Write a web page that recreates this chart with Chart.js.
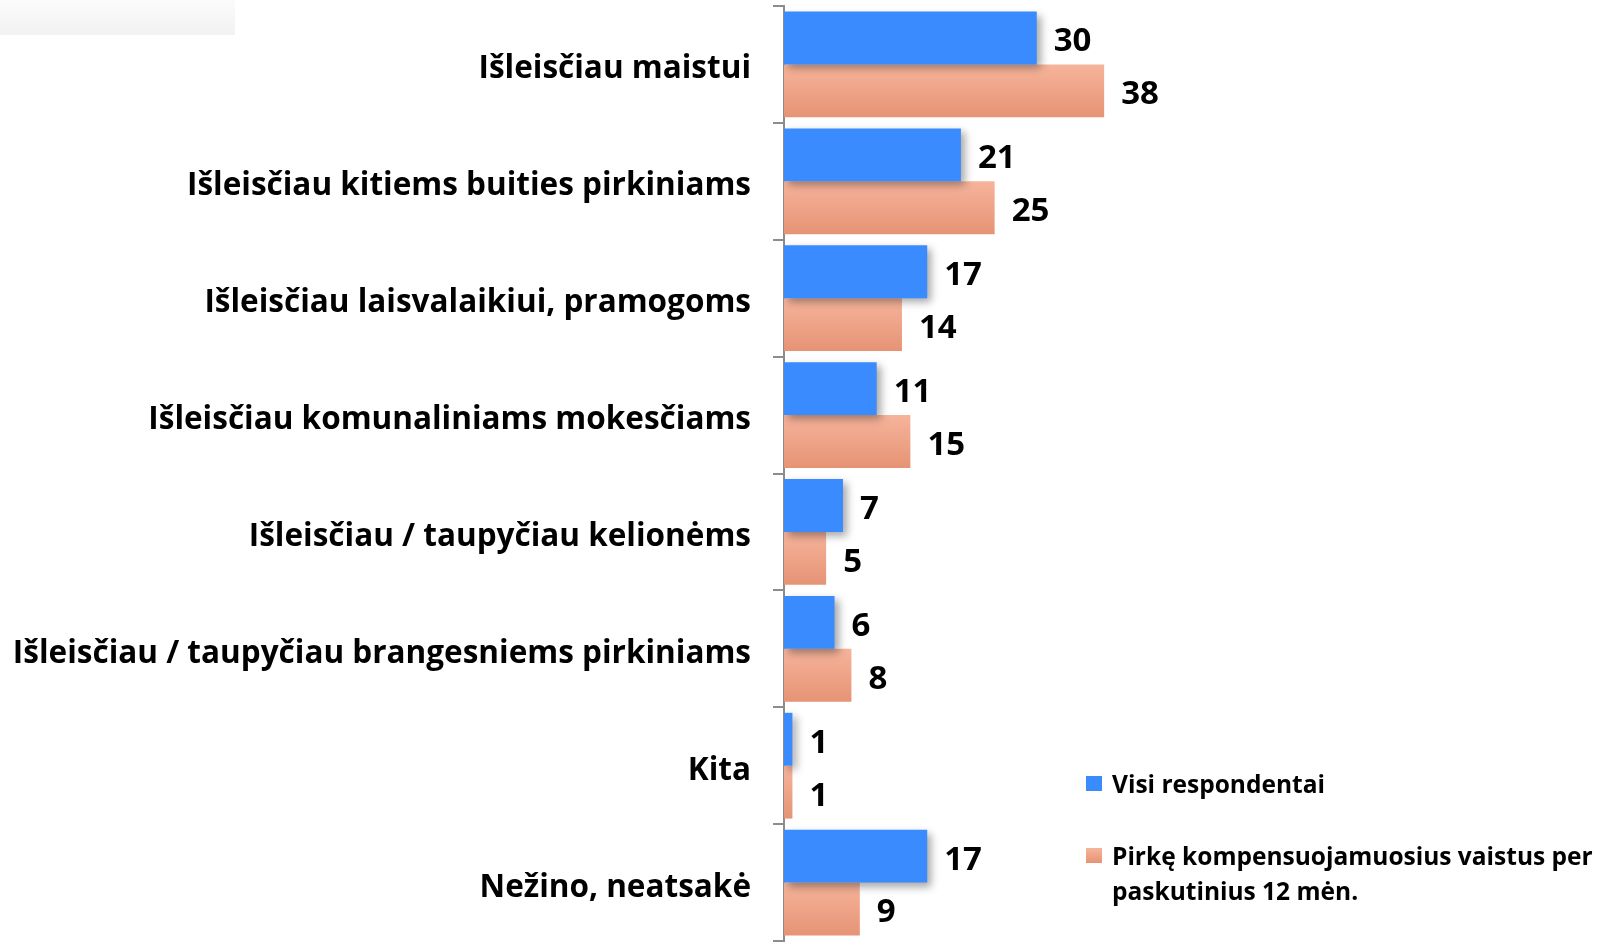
<!DOCTYPE html>
<html>
<head>
<meta charset="utf-8">
<script src="https://cdn.jsdelivr.net/npm/chart.js@4/dist/chart.umd.min.js"></script>
<style>
  html, body { margin: 0; padding: 0; background: #fff; }
  #wrap { position: relative; width: 1614px; height: 945px; }
  #greyBox { position: absolute; left: 0; top: 0; width: 235px; height: 35px;
    background: linear-gradient(#fbfbfb, #f2f2f2); }
  #legend { position: absolute; left: 1086px; top: 766px; width: 528px;
    font: bold 24.5px "Open Sans", sans-serif; color: #000; }
  .leg-item { position: relative; padding-left: 26px; margin-bottom: 37px; line-height: 35px; }
  .leg-box { position: absolute; left: 0; top: 10px; width: 16px; height: 15px; }
</style>
</head>
<body>
<div id="wrap">
  <div id="greyBox"></div>
  <canvas id="barChart" width="1614" height="945"></canvas>
  <div id="legend"></div>
</div>
<script>
const CATEGORIES = [
  'Išleisčiau maistui',
  'Išleisčiau kitiems buities pirkiniams',
  'Išleisčiau laisvalaikiui, pramogoms',
  'Išleisčiau komunaliniams mokesčiams',
  'Išleisčiau / taupyčiau kelionėms',
  'Išleisčiau / taupyčiau brangesniems pirkiniams',
  'Kita',
  'Nežino, neatsakė',
];

const SERIES_NAMES = [
  'Visi respondentai',
  'Pirkę kompensuojamuosius vaistus per paskutinius 12 mėn.',
];

const ALL_VALUES = [30, 21, 17, 11, 7, 6, 1, 17];
const COMP_VALUES = [38, 25, 14, 15, 5, 8, 1, 9];

const BLUE = '#3a8bfd';
const ORANGE_TOP = '#f6b49b';
const ORANGE_BOTTOM = '#e69375';
const CAT_PCT = 0.905;
const FONT = '"Open Sans", sans-serif';

function orangeFill(c) {
  const chart = c.chart;
  const y = chart.scales && chart.scales.y;
  if (!y || !chart.chartArea || c.dataIndex === undefined) return ORANGE_TOP;
  const center = y.getPixelForValue(c.dataIndex);
  const catH = (chart.chartArea.bottom - chart.chartArea.top) / CATEGORIES.length;
  const g = chart.ctx.createLinearGradient(0, center, 0, center + catH * CAT_PCT / 2);
  g.addColorStop(0, ORANGE_TOP);
  g.addColorStop(1, ORANGE_BOTTOM);
  return g;
}

// cienis po mėlynais stulpeliais
const shadowPlugin = {
  id: 'barShadow',
  beforeDatasetDraw(chart, args) {
    const ctx = chart.ctx;
    ctx.save();
    if (args.index === 0) {
      ctx.shadowColor = 'rgba(0,0,0,0.35)';
      ctx.shadowBlur = 8;
      ctx.shadowOffsetX = 4;
      ctx.shadowOffsetY = 4;
    }
  },
  afterDatasetDraw(chart) {
    chart.ctx.restore();
  },
};

// reikšmės prie stulpelių
const valueLabels = {
  id: 'valueLabels',
  afterDatasetsDraw(chart) {
    const ctx = chart.ctx;
    ctx.save();
    ctx.font = `bold 33px ${FONT}`;
    ctx.fillStyle = '#000';
    ctx.textBaseline = 'middle';
    ctx.textAlign = 'left';
    chart.data.datasets.forEach((ds, i) => {
      const meta = chart.getDatasetMeta(i);
      meta.data.forEach((bar, j) => {
        ctx.fillText(String(ds.data[j]), bar.x + 17, bar.y + 4);
      });
    });
    ctx.restore();
  },
};

const ctx = document.getElementById('barChart').getContext('2d');
const chart = new Chart(ctx, {
  type: 'bar',
  data: {
    labels: CATEGORIES,
    datasets: [
      { label: SERIES_NAMES[0], data: ALL_VALUES, backgroundColor: BLUE },
      { label: SERIES_NAMES[1], data: COMP_VALUES, backgroundColor: orangeFill },
    ],
  },
  options: {
    indexAxis: 'y',
    responsive: false,
    animation: false,
    events: [],
    barPercentage: 1,
    categoryPercentage: CAT_PCT,
    layout: { padding: { top: 6, bottom: 4, left: 0, right: 493 } },
    plugins: { legend: { display: false }, tooltip: { enabled: false } },
    scales: {
      x: { display: false, min: 0, max: 40 },
      y: {
        offset: true,
        afterFit: (scale) => {
          scale.width = 784;
          scale.paddingTop = 0;
          scale.paddingBottom = 0;
        },
        border: { display: true, color: '#8c8c8c', width: 2 },
        grid: { drawOnChartArea: false, tickLength: 11, color: '#8c8c8c', lineWidth: 2, offset: true },
        ticks: {
          color: '#000',
          padding: 22,
          labelOffset: 5,
          font: { family: FONT, weight: 'bold', size: 31.5 },
        },
      },
    },
  },
  plugins: [shadowPlugin, valueLabels],
});

function buildLegend() {
  const legend = document.getElementById('legend');
  const colors = [BLUE, `linear-gradient(${ORANGE_TOP}, ${ORANGE_BOTTOM})`];
  SERIES_NAMES.forEach((name, i) => {
    const item = document.createElement('div');
    item.className = 'leg-item';
    item.innerHTML = `<span class="leg-box" style="background:${colors[i]}"></span>${name}`;
    legend.appendChild(item);
  });
}

buildLegend();
</script>
</body>
</html>
